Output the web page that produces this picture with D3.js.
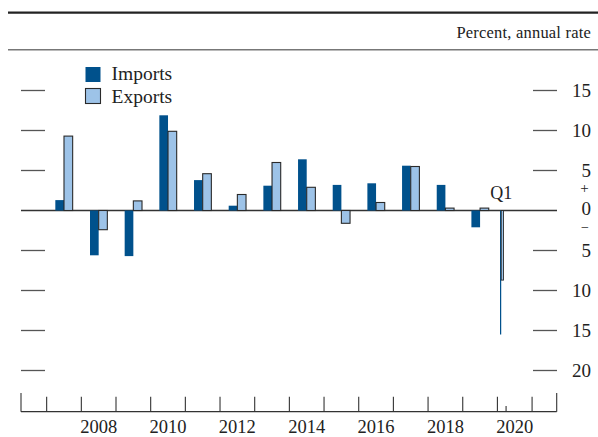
<!DOCTYPE html>
<html><head><meta charset="utf-8">
<script src="https://cdn.jsdelivr.net/npm/d3@7"></script>
<style>body{margin:0;background:#fff}svg{display:block}text{font-family:"Liberation Serif","Times New Roman",serif;fill:#222}</style>
</head><body>
<script>
const years = [2007,2008,2009,2010,2011,2012,2013,2014,2015,2016,2017,2018,2019];
const imports = [1.3,-5.6,-5.7,11.9,3.8,0.6,3.1,6.4,3.2,3.4,5.6,3.2,-2.1];
const exports_ = [9.3,-2.4,1.2,9.9,4.6,2.0,6.0,2.9,-1.6,1.0,5.5,0.3,0.3];
const quarterLabel = ["Q1"];
const quarterPos = [2020.125];
const quarterImports = [-15.5];
const quarterExports = [-8.7];
const yTicks = [15,10,5,0,-5,-10,-15,-20];
const xLabelYears = [2008,2010,2012,2014,2016,2018,2020];
const seriesNames = ["Imports","Exports"];

const W=598,H=437;
const cImp="#00518c", cExp="#9dc3e8";
const svg=d3.select("body").append("svg").attr("width",W).attr("height",H);

const x=d3.scaleLinear().domain([2006.26,2021.71]).range([21,556.7]);
const y=d3.scaleLinear().domain([-20,15]).range([370.5,90.5]);

// header rules
svg.append("line").attr("x1",8).attr("x2",598).attr("y1",12.7).attr("y2",12.7).attr("stroke","#222").attr("stroke-width",2.2);
svg.append("line").attr("x1",8).attr("x2",598).attr("y1",49.8).attr("y2",49.8).attr("stroke","#777").attr("stroke-width",1.4);
svg.append("text").attr("x",591).attr("y",38.3).attr("text-anchor","end").attr("font-size",16.5).attr("letter-spacing",0.2).text("Percent, annual rate");

// y ticks (left & right)
const tickVals=yTicks.filter(d=>d!==0);
svg.selectAll(".lt").data(tickVals).join("line").attr("x1",21).attr("x2",45).attr("y1",d=>y(d)).attr("y2",d=>y(d)).attr("stroke","#555").attr("stroke-width",1.3);
svg.selectAll(".rt").data(tickVals).join("line").attr("x1",533).attr("x2",557).attr("y1",d=>y(d)).attr("y2",d=>y(d)).attr("stroke","#555").attr("stroke-width",1.3);
svg.selectAll(".rl").data(yTicks).join("text").attr("x",591).attr("y",d=>y(d)+(d===0?4.5:6.3)).attr("text-anchor","end").attr("font-size",19).text(d=>Math.abs(d));
svg.append("text").attr("x",584.5).attr("y",y(0)-17.5).attr("text-anchor","middle").attr("font-size",15).text("+");
svg.append("text").attr("x",585).attr("y",y(0)+21.5).attr("text-anchor","middle").attr("font-size",14).text("\u2212");

// zero line
svg.append("line").attr("x1",21).attr("x2",557).attr("y1",y(0)).attr("y2",y(0)).attr("stroke","#333").attr("stroke-width",1.3);

// annual bars
const bw=0.25;
svg.selectAll(".bi").data(years).join("rect")
  .attr("x",(d)=>x(d+0.5-bw)).attr("width",(d)=>x(d+0.5)-x(d+0.5-bw))
  .attr("y",(d,i)=>y(Math.max(0,imports[i]))).attr("height",(d,i)=>Math.abs(y(imports[i])-y(0)))
  .attr("fill",cImp);
svg.selectAll(".be").data(years).join("rect")
  .attr("x",(d)=>x(d+0.5)).attr("width",(d)=>x(d+0.5+bw)-x(d+0.5))
  .attr("y",(d,i)=>y(Math.max(0,exports_[i]))).attr("height",(d,i)=>Math.abs(y(exports_[i])-y(0)))
  .attr("fill",cExp).attr("stroke","#2a2a2a").attr("stroke-width",1.1);

// quarterly bars
svg.selectAll(".qi").data(quarterPos).join("rect")
  .attr("x",d=>x(d-0.05)).attr("width",d=>x(d-0.015)-x(d-0.05))
  .attr("y",(d,i)=>y(Math.max(0,quarterImports[i]))).attr("height",(d,i)=>Math.abs(y(quarterImports[i])-y(0)))
  .attr("fill",cImp);
svg.selectAll(".qe").data(quarterPos).join("rect")
  .attr("x",d=>x(d-0.015)).attr("width",d=>x(d+0.05)-x(d-0.015))
  .attr("y",(d,i)=>y(Math.max(0,quarterExports[i]))).attr("height",(d,i)=>Math.abs(y(quarterExports[i])-y(0)))
  .attr("fill",cExp).attr("stroke","#2a2a2a").attr("stroke-width",0.9);
svg.selectAll(".ql").data(quarterPos).join("text").attr("x",d=>x(d)-0.5).attr("y",199).attr("text-anchor","middle").attr("font-size",18).text((d,i)=>quarterLabel[i]);

// x axis
const axY=411.7;
svg.append("line").attr("x1",x.range()[0]).attr("x2",x.range()[1]).attr("y1",axY).attr("y2",axY).attr("stroke","#333").attr("stroke-width",1.3);
const bounds=d3.range(2007,2022);
svg.selectAll(".xt").data(bounds).join("line").attr("x1",d=>x(d)).attr("x2",d=>x(d)).attr("y1",396.7).attr("y2",axY).attr("stroke","#333").attr("stroke-width",1.1);
svg.selectAll(".xe").data(x.domain()).join("line").attr("x1",d=>x(d)).attr("x2",d=>x(d)).attr("y1",393).attr("y2",axY).attr("stroke","#333").attr("stroke-width",1.1);
svg.append("line").attr("x1",x(2020.25)).attr("x2",x(2020.25)).attr("y1",406).attr("y2",axY).attr("stroke","#333").attr("stroke-width",1.1);
svg.selectAll(".xl").data(xLabelYears).join("text").attr("x",d=>x(d+0.5)).attr("y",433).attr("text-anchor","middle").attr("font-size",18.5).text(d=>d);

// legend
const lg=svg.append("g");
[cImp,cExp].forEach((c,i)=>{
  lg.append("rect").attr("x",85.5).attr("y",67+i*21.5).attr("width",15).attr("height",15).attr("fill",c).attr("stroke",i?"#2a2a2a":"none").attr("stroke-width",1.1);
  lg.append("text").attr("x",111.5).attr("y",80+i*22.5).attr("font-size",19.5).text(seriesNames[i]);
});
</script>
</body></html>
